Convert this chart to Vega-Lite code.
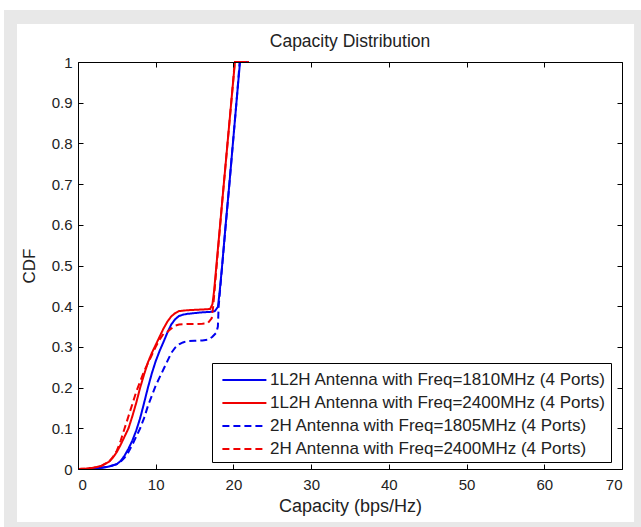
{
  "$schema": "https://vega.github.io/schema/vega-lite/v6.json",
  "width": 544,
  "height": 407,
  "autosize": {"type": "none"},
  "padding": {"left": 78, "top": 62, "right": 19, "bottom": 58},
  "background": "white",
  "title": {"text": "Capacity Distribution", "frame": "group", "anchor": "middle", "fontSize": 17.5, "font": "Liberation Sans", "fontWeight": "normal", "color": "#222222", "offset": -41},
  "config": {
    "view": {"stroke": null},
    "axis": {"labelFont": "Liberation Sans", "titleFont": "Liberation Sans", "labelColor": "#222222", "titleColor": "#222222", "domainColor": "#000000", "tickColor": "#000000", "grid": false, "titleFontWeight": "normal"},
    "legend": {"labelFont": "Liberation Sans", "labelFontSize": 17, "labelColor": "#222222", "labelLimit": 600}
  },
  "datasets": {
    "frame": [
      {"part": "outer", "x1": -9.52, "x2": 73, "y1": -0.15, "y2": 1.128},
      {"part": "inner", "x1": -7.85, "x2": 71.55, "y1": -0.1302, "y2": 1.0934}
    ],
    "curves": [
      {"s": "1L2H Antenna with Freq=1810MHz (4 Ports)", "x": 0, "y": 0},
      {"s": "1L2H Antenna with Freq=1810MHz (4 Ports)", "x": 1, "y": 0},
      {"s": "1L2H Antenna with Freq=1810MHz (4 Ports)", "x": 2, "y": 0.001},
      {"s": "1L2H Antenna with Freq=1810MHz (4 Ports)", "x": 3, "y": 0.003},
      {"s": "1L2H Antenna with Freq=1810MHz (4 Ports)", "x": 4, "y": 0.006},
      {"s": "1L2H Antenna with Freq=1810MHz (4 Ports)", "x": 5, "y": 0.012},
      {"s": "1L2H Antenna with Freq=1810MHz (4 Ports)", "x": 5.5, "y": 0.02},
      {"s": "1L2H Antenna with Freq=1810MHz (4 Ports)", "x": 6, "y": 0.033},
      {"s": "1L2H Antenna with Freq=1810MHz (4 Ports)", "x": 6.5, "y": 0.05},
      {"s": "1L2H Antenna with Freq=1810MHz (4 Ports)", "x": 7, "y": 0.07},
      {"s": "1L2H Antenna with Freq=1810MHz (4 Ports)", "x": 7.5, "y": 0.095},
      {"s": "1L2H Antenna with Freq=1810MHz (4 Ports)", "x": 8, "y": 0.125},
      {"s": "1L2H Antenna with Freq=1810MHz (4 Ports)", "x": 8.5, "y": 0.162},
      {"s": "1L2H Antenna with Freq=1810MHz (4 Ports)", "x": 9, "y": 0.2},
      {"s": "1L2H Antenna with Freq=1810MHz (4 Ports)", "x": 9.5, "y": 0.235},
      {"s": "1L2H Antenna with Freq=1810MHz (4 Ports)", "x": 10, "y": 0.265},
      {"s": "1L2H Antenna with Freq=1810MHz (4 Ports)", "x": 10.5, "y": 0.29},
      {"s": "1L2H Antenna with Freq=1810MHz (4 Ports)", "x": 11, "y": 0.312},
      {"s": "1L2H Antenna with Freq=1810MHz (4 Ports)", "x": 11.5, "y": 0.335},
      {"s": "1L2H Antenna with Freq=1810MHz (4 Ports)", "x": 12, "y": 0.355},
      {"s": "1L2H Antenna with Freq=1810MHz (4 Ports)", "x": 12.5, "y": 0.368},
      {"s": "1L2H Antenna with Freq=1810MHz (4 Ports)", "x": 13, "y": 0.376},
      {"s": "1L2H Antenna with Freq=1810MHz (4 Ports)", "x": 13.5, "y": 0.379},
      {"s": "1L2H Antenna with Freq=1810MHz (4 Ports)", "x": 14, "y": 0.381},
      {"s": "1L2H Antenna with Freq=1810MHz (4 Ports)", "x": 15, "y": 0.383},
      {"s": "1L2H Antenna with Freq=1810MHz (4 Ports)", "x": 16, "y": 0.385},
      {"s": "1L2H Antenna with Freq=1810MHz (4 Ports)", "x": 17, "y": 0.386},
      {"s": "1L2H Antenna with Freq=1810MHz (4 Ports)", "x": 17.6, "y": 0.388},
      {"s": "1L2H Antenna with Freq=1810MHz (4 Ports)", "x": 18, "y": 0.398},
      {"s": "1L2H Antenna with Freq=1810MHz (4 Ports)", "x": 18.2, "y": 0.43},
      {"s": "1L2H Antenna with Freq=1810MHz (4 Ports)", "x": 18.5, "y": 0.49},
      {"s": "1L2H Antenna with Freq=1810MHz (4 Ports)", "x": 19, "y": 0.6},
      {"s": "1L2H Antenna with Freq=1810MHz (4 Ports)", "x": 19.5, "y": 0.705},
      {"s": "1L2H Antenna with Freq=1810MHz (4 Ports)", "x": 20, "y": 0.815},
      {"s": "1L2H Antenna with Freq=1810MHz (4 Ports)", "x": 20.5, "y": 0.925},
      {"s": "1L2H Antenna with Freq=1810MHz (4 Ports)", "x": 20.85, "y": 1},
      {"s": "1L2H Antenna with Freq=1810MHz (4 Ports)", "x": 22, "y": 1},
      {"s": "1L2H Antenna with Freq=2400MHz (4 Ports)", "x": 0, "y": 0},
      {"s": "1L2H Antenna with Freq=2400MHz (4 Ports)", "x": 1, "y": 0.001},
      {"s": "1L2H Antenna with Freq=2400MHz (4 Ports)", "x": 2, "y": 0.003},
      {"s": "1L2H Antenna with Freq=2400MHz (4 Ports)", "x": 3, "y": 0.008},
      {"s": "1L2H Antenna with Freq=2400MHz (4 Ports)", "x": 4, "y": 0.018},
      {"s": "1L2H Antenna with Freq=2400MHz (4 Ports)", "x": 4.5, "y": 0.028},
      {"s": "1L2H Antenna with Freq=2400MHz (4 Ports)", "x": 5, "y": 0.042},
      {"s": "1L2H Antenna with Freq=2400MHz (4 Ports)", "x": 5.5, "y": 0.06},
      {"s": "1L2H Antenna with Freq=2400MHz (4 Ports)", "x": 6, "y": 0.08},
      {"s": "1L2H Antenna with Freq=2400MHz (4 Ports)", "x": 6.5, "y": 0.1},
      {"s": "1L2H Antenna with Freq=2400MHz (4 Ports)", "x": 7, "y": 0.13},
      {"s": "1L2H Antenna with Freq=2400MHz (4 Ports)", "x": 7.5, "y": 0.163},
      {"s": "1L2H Antenna with Freq=2400MHz (4 Ports)", "x": 8, "y": 0.2},
      {"s": "1L2H Antenna with Freq=2400MHz (4 Ports)", "x": 8.5, "y": 0.232},
      {"s": "1L2H Antenna with Freq=2400MHz (4 Ports)", "x": 9, "y": 0.262},
      {"s": "1L2H Antenna with Freq=2400MHz (4 Ports)", "x": 9.5, "y": 0.285},
      {"s": "1L2H Antenna with Freq=2400MHz (4 Ports)", "x": 10, "y": 0.305},
      {"s": "1L2H Antenna with Freq=2400MHz (4 Ports)", "x": 10.5, "y": 0.325},
      {"s": "1L2H Antenna with Freq=2400MHz (4 Ports)", "x": 11, "y": 0.345},
      {"s": "1L2H Antenna with Freq=2400MHz (4 Ports)", "x": 11.5, "y": 0.362},
      {"s": "1L2H Antenna with Freq=2400MHz (4 Ports)", "x": 12, "y": 0.375},
      {"s": "1L2H Antenna with Freq=2400MHz (4 Ports)", "x": 12.5, "y": 0.383},
      {"s": "1L2H Antenna with Freq=2400MHz (4 Ports)", "x": 13, "y": 0.388},
      {"s": "1L2H Antenna with Freq=2400MHz (4 Ports)", "x": 14, "y": 0.39},
      {"s": "1L2H Antenna with Freq=2400MHz (4 Ports)", "x": 15, "y": 0.391},
      {"s": "1L2H Antenna with Freq=2400MHz (4 Ports)", "x": 16, "y": 0.392},
      {"s": "1L2H Antenna with Freq=2400MHz (4 Ports)", "x": 17, "y": 0.393},
      {"s": "1L2H Antenna with Freq=2400MHz (4 Ports)", "x": 17.3, "y": 0.405},
      {"s": "1L2H Antenna with Freq=2400MHz (4 Ports)", "x": 17.5, "y": 0.435},
      {"s": "1L2H Antenna with Freq=2400MHz (4 Ports)", "x": 18, "y": 0.54},
      {"s": "1L2H Antenna with Freq=2400MHz (4 Ports)", "x": 18.5, "y": 0.645},
      {"s": "1L2H Antenna with Freq=2400MHz (4 Ports)", "x": 19, "y": 0.75},
      {"s": "1L2H Antenna with Freq=2400MHz (4 Ports)", "x": 19.5, "y": 0.855},
      {"s": "1L2H Antenna with Freq=2400MHz (4 Ports)", "x": 20, "y": 0.96},
      {"s": "1L2H Antenna with Freq=2400MHz (4 Ports)", "x": 20.2, "y": 1},
      {"s": "1L2H Antenna with Freq=2400MHz (4 Ports)", "x": 22, "y": 1},
      {"s": "2H Antenna with Freq=1805MHz (4 Ports)", "x": 0, "y": 0},
      {"s": "2H Antenna with Freq=1805MHz (4 Ports)", "x": 1, "y": 0},
      {"s": "2H Antenna with Freq=1805MHz (4 Ports)", "x": 2, "y": 0.001},
      {"s": "2H Antenna with Freq=1805MHz (4 Ports)", "x": 3, "y": 0.003},
      {"s": "2H Antenna with Freq=1805MHz (4 Ports)", "x": 4, "y": 0.006},
      {"s": "2H Antenna with Freq=1805MHz (4 Ports)", "x": 5, "y": 0.012},
      {"s": "2H Antenna with Freq=1805MHz (4 Ports)", "x": 5.5, "y": 0.018},
      {"s": "2H Antenna with Freq=1805MHz (4 Ports)", "x": 6, "y": 0.028},
      {"s": "2H Antenna with Freq=1805MHz (4 Ports)", "x": 6.5, "y": 0.042},
      {"s": "2H Antenna with Freq=1805MHz (4 Ports)", "x": 7, "y": 0.06},
      {"s": "2H Antenna with Freq=1805MHz (4 Ports)", "x": 7.5, "y": 0.08},
      {"s": "2H Antenna with Freq=1805MHz (4 Ports)", "x": 8, "y": 0.1},
      {"s": "2H Antenna with Freq=1805MHz (4 Ports)", "x": 8.5, "y": 0.125},
      {"s": "2H Antenna with Freq=1805MHz (4 Ports)", "x": 9, "y": 0.155},
      {"s": "2H Antenna with Freq=1805MHz (4 Ports)", "x": 9.5, "y": 0.18},
      {"s": "2H Antenna with Freq=1805MHz (4 Ports)", "x": 10, "y": 0.205},
      {"s": "2H Antenna with Freq=1805MHz (4 Ports)", "x": 10.5, "y": 0.225},
      {"s": "2H Antenna with Freq=1805MHz (4 Ports)", "x": 11, "y": 0.245},
      {"s": "2H Antenna with Freq=1805MHz (4 Ports)", "x": 11.5, "y": 0.265},
      {"s": "2H Antenna with Freq=1805MHz (4 Ports)", "x": 12, "y": 0.285},
      {"s": "2H Antenna with Freq=1805MHz (4 Ports)", "x": 12.5, "y": 0.298},
      {"s": "2H Antenna with Freq=1805MHz (4 Ports)", "x": 13, "y": 0.306},
      {"s": "2H Antenna with Freq=1805MHz (4 Ports)", "x": 13.5, "y": 0.311},
      {"s": "2H Antenna with Freq=1805MHz (4 Ports)", "x": 14, "y": 0.314},
      {"s": "2H Antenna with Freq=1805MHz (4 Ports)", "x": 15, "y": 0.315},
      {"s": "2H Antenna with Freq=1805MHz (4 Ports)", "x": 16, "y": 0.316},
      {"s": "2H Antenna with Freq=1805MHz (4 Ports)", "x": 16.8, "y": 0.318},
      {"s": "2H Antenna with Freq=1805MHz (4 Ports)", "x": 17.3, "y": 0.325},
      {"s": "2H Antenna with Freq=1805MHz (4 Ports)", "x": 17.8, "y": 0.335},
      {"s": "2H Antenna with Freq=1805MHz (4 Ports)", "x": 18, "y": 0.35},
      {"s": "2H Antenna with Freq=1805MHz (4 Ports)", "x": 18.1, "y": 0.4},
      {"s": "2H Antenna with Freq=1805MHz (4 Ports)", "x": 18.5, "y": 0.488},
      {"s": "2H Antenna with Freq=1805MHz (4 Ports)", "x": 19, "y": 0.597},
      {"s": "2H Antenna with Freq=1805MHz (4 Ports)", "x": 19.5, "y": 0.705},
      {"s": "2H Antenna with Freq=1805MHz (4 Ports)", "x": 20, "y": 0.815},
      {"s": "2H Antenna with Freq=1805MHz (4 Ports)", "x": 20.5, "y": 0.925},
      {"s": "2H Antenna with Freq=1805MHz (4 Ports)", "x": 20.8, "y": 1},
      {"s": "2H Antenna with Freq=1805MHz (4 Ports)", "x": 22, "y": 1},
      {"s": "2H Antenna with Freq=2400MHz (4 Ports)", "x": 0, "y": 0},
      {"s": "2H Antenna with Freq=2400MHz (4 Ports)", "x": 1, "y": 0.001},
      {"s": "2H Antenna with Freq=2400MHz (4 Ports)", "x": 2, "y": 0.003},
      {"s": "2H Antenna with Freq=2400MHz (4 Ports)", "x": 3, "y": 0.007},
      {"s": "2H Antenna with Freq=2400MHz (4 Ports)", "x": 4, "y": 0.018},
      {"s": "2H Antenna with Freq=2400MHz (4 Ports)", "x": 4.5, "y": 0.03},
      {"s": "2H Antenna with Freq=2400MHz (4 Ports)", "x": 5, "y": 0.045},
      {"s": "2H Antenna with Freq=2400MHz (4 Ports)", "x": 5.5, "y": 0.07},
      {"s": "2H Antenna with Freq=2400MHz (4 Ports)", "x": 6, "y": 0.1},
      {"s": "2H Antenna with Freq=2400MHz (4 Ports)", "x": 6.5, "y": 0.13},
      {"s": "2H Antenna with Freq=2400MHz (4 Ports)", "x": 7, "y": 0.16},
      {"s": "2H Antenna with Freq=2400MHz (4 Ports)", "x": 7.5, "y": 0.19},
      {"s": "2H Antenna with Freq=2400MHz (4 Ports)", "x": 8, "y": 0.215},
      {"s": "2H Antenna with Freq=2400MHz (4 Ports)", "x": 8.5, "y": 0.24},
      {"s": "2H Antenna with Freq=2400MHz (4 Ports)", "x": 9, "y": 0.26},
      {"s": "2H Antenna with Freq=2400MHz (4 Ports)", "x": 9.5, "y": 0.28},
      {"s": "2H Antenna with Freq=2400MHz (4 Ports)", "x": 10, "y": 0.3},
      {"s": "2H Antenna with Freq=2400MHz (4 Ports)", "x": 10.5, "y": 0.318},
      {"s": "2H Antenna with Freq=2400MHz (4 Ports)", "x": 11, "y": 0.332},
      {"s": "2H Antenna with Freq=2400MHz (4 Ports)", "x": 11.5, "y": 0.337},
      {"s": "2H Antenna with Freq=2400MHz (4 Ports)", "x": 12, "y": 0.345},
      {"s": "2H Antenna with Freq=2400MHz (4 Ports)", "x": 12.5, "y": 0.352},
      {"s": "2H Antenna with Freq=2400MHz (4 Ports)", "x": 13, "y": 0.355},
      {"s": "2H Antenna with Freq=2400MHz (4 Ports)", "x": 14, "y": 0.356},
      {"s": "2H Antenna with Freq=2400MHz (4 Ports)", "x": 15, "y": 0.356},
      {"s": "2H Antenna with Freq=2400MHz (4 Ports)", "x": 16, "y": 0.357},
      {"s": "2H Antenna with Freq=2400MHz (4 Ports)", "x": 16.7, "y": 0.358},
      {"s": "2H Antenna with Freq=2400MHz (4 Ports)", "x": 17.2, "y": 0.37},
      {"s": "2H Antenna with Freq=2400MHz (4 Ports)", "x": 17.4, "y": 0.4},
      {"s": "2H Antenna with Freq=2400MHz (4 Ports)", "x": 17.6, "y": 0.445},
      {"s": "2H Antenna with Freq=2400MHz (4 Ports)", "x": 18, "y": 0.535},
      {"s": "2H Antenna with Freq=2400MHz (4 Ports)", "x": 18.5, "y": 0.645},
      {"s": "2H Antenna with Freq=2400MHz (4 Ports)", "x": 19, "y": 0.75},
      {"s": "2H Antenna with Freq=2400MHz (4 Ports)", "x": 19.5, "y": 0.855},
      {"s": "2H Antenna with Freq=2400MHz (4 Ports)", "x": 20, "y": 0.96},
      {"s": "2H Antenna with Freq=2400MHz (4 Ports)", "x": 20.15, "y": 1},
      {"s": "2H Antenna with Freq=2400MHz (4 Ports)", "x": 22, "y": 1}
    ]
  },
  "resolve": {"axis": {"x": "independent", "y": "independent"}},
  "layer": [
    {
      "data": {"name": "frame"},
      "transform": [{"filter": "datum.part === 'outer'"}],
      "mark": {"type": "rect", "color": "#e8e8e8", "clip": false},
      "encoding": {
        "x": {"field": "x1", "type": "quantitative", "scale": {"domain": [0, 70], "nice": false, "zero": false}, "axis": null},
        "x2": {"field": "x2"},
        "y": {"field": "y1", "type": "quantitative", "scale": {"domain": [0, 1], "nice": false, "zero": false}, "axis": null},
        "y2": {"field": "y2"}
      }
    },
    {
      "data": {"name": "frame"},
      "transform": [{"filter": "datum.part === 'inner'"}],
      "mark": {"type": "rect", "color": "#ffffff", "clip": false},
      "encoding": {
        "x": {"field": "x1", "type": "quantitative", "axis": {"orient": "top", "labels": false, "title": null, "values": [0, 10, 20, 30, 40, 50, 60, 70], "tickSize": -5, "zindex": 1}},
        "x2": {"field": "x2"},
        "y": {"field": "y1", "type": "quantitative", "axis": {"orient": "right", "labels": false, "title": null, "values": [0, 0.1, 0.2, 0.3, 0.4, 0.5, 0.6, 0.7, 0.8, 0.9, 1], "tickSize": -5, "zindex": 1}},
        "y2": {"field": "y2"}
      }
    },
    {
      "data": {"name": "curves"},
      "mark": {"type": "line", "strokeWidth": 2},
      "encoding": {
        "x": {"field": "x", "type": "quantitative", "axis": {"orient": "bottom", "title": "Capacity (bps/Hz)", "values": [0, 10, 20, 30, 40, 50, 60, 70], "tickSize": -5, "labelFontSize": 15, "labelPadding": 13, "titleFontSize": 18, "titlePadding": 5, "zindex": 1}},
        "y": {"field": "y", "type": "quantitative", "axis": {"orient": "left", "title": "CDF", "values": [0, 0.1, 0.2, 0.3, 0.4, 0.5, 0.6, 0.7, 0.8, 0.9, 1], "format": "~g", "tickSize": -5, "labelFontSize": 15, "labelPadding": 11, "titleFontSize": 17, "titlePadding": 13, "zindex": 1}},
        "color": {
          "field": "s", "type": "nominal",
          "scale": {"domain": ["1L2H Antenna with Freq=1810MHz (4 Ports)", "1L2H Antenna with Freq=2400MHz (4 Ports)", "2H Antenna with Freq=1805MHz (4 Ports)", "2H Antenna with Freq=2400MHz (4 Ports)"], "range": ["#0000f0", "#f00000", "#0000f0", "#f00000"]},
          "legend": {"orient": "none", "legendX": 134, "legendY": 301, "title": null, "symbolType": "M-0.6,0H3.4", "symbolSize": 484, "symbolStrokeWidth": 2, "labelOffset": 29, "padding": 5, "strokeColor": "#000000", "fillColor": "#ffffff", "rowPadding": 3}
        },
        "strokeDash": {
          "field": "s", "type": "nominal",
          "scale": {"domain": ["1L2H Antenna with Freq=1810MHz (4 Ports)", "1L2H Antenna with Freq=2400MHz (4 Ports)", "2H Antenna with Freq=1805MHz (4 Ports)", "2H Antenna with Freq=2400MHz (4 Ports)"], "range": [[1, 0], [1, 0], [7, 4], [7, 4]]},
          "legend": {"orient": "none", "legendX": 134, "legendY": 301, "title": null, "symbolType": "M-0.6,0H3.4", "symbolSize": 484, "symbolStrokeWidth": 2, "labelOffset": 29, "padding": 5, "strokeColor": "#000000", "fillColor": "#ffffff", "rowPadding": 3}
        }
      }
    }
  ]
}
